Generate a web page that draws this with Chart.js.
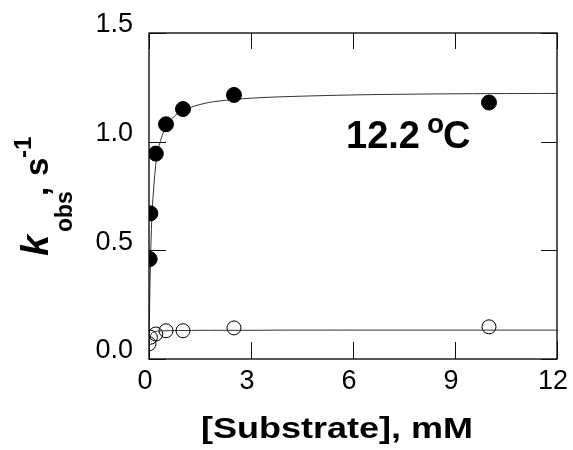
<!DOCTYPE html>
<html>
<head>
<meta charset="utf-8">
<script src="https://cdn.jsdelivr.net/npm/chart.js@4.4.0/dist/chart.umd.min.js"></script>
<style>
  html, body { margin: 0; padding: 0; background: #fff; }
</style>
</head>
<body>
<canvas id="kobsChart" width="573" height="450"></canvas>
<script>
// substrate concentration (mM) and k_obs (1/s)
var substrateFilled = [0.02, 0.04, 0.2, 0.5, 1, 2.5, 10];
var kobsFilled = [0.46, 0.67, 0.945, 1.08, 1.15, 1.215, 1.18];
var substrateOpen = [0.0, 0.04, 0.2, 0.5, 1, 2.5, 10];
var kobsOpen = [0.07, 0.10, 0.115, 0.13, 0.13, 0.143, 0.148];

// fitted curves
var fitX = [0, 0.02, 0.05, 0.1, 0.2, 0.3, 0.5, 0.75, 1, 1.5, 2, 3, 4, 6, 8, 10, 12];
var fitFilled = [0, 0.26, 0.49, 0.70, 0.895, 0.984, 1.07, 1.118, 1.144, 1.171, 1.186, 1.20, 1.207, 1.215, 1.219, 1.221, 1.222];
var fitOpen = [0, 0.085, 0.11, 0.122, 0.127, 0.129, 0.130, 0.131, 0.131, 0.132, 0.132, 0.132, 0.133, 0.133, 0.133, 0.133, 0.133];

// axis ticks
var xTicks = [0, 3, 6, 9, 12];
var yTicks = [0, 0.5, 1.0, 1.5];
var tempLabel = '12.2';

function toPoints(xs, ys)
{
    return xs.map(function(x, i) { return {x: x, y: ys[i]}; });
}

// draws the box round the plot, the inward ticks on all four sides and the titles
var framePlugin = {
    id: 'frame',
    afterDraw: function(chart) {
        var ctx = chart.ctx;
        var a = chart.chartArea;
        var xs = chart.scales.x;
        var ys = chart.scales.y;
        ctx.save();
        ctx.strokeStyle = '#111';
        ctx.lineWidth = 1;
        ctx.beginPath();
        xTicks.forEach(function(v) {
            var px = Math.round(xs.getPixelForValue(v)) + 0.5;
            ctx.moveTo(px, a.bottom); ctx.lineTo(px, a.bottom - 17);
            ctx.moveTo(px, a.top); ctx.lineTo(px, a.top + 16);
        });
        yTicks.forEach(function(v) {
            var py = Math.round(ys.getPixelForValue(v)) + 0.5;
            ctx.moveTo(a.left, py); ctx.lineTo(a.left + 17, py);
            ctx.moveTo(a.right, py); ctx.lineTo(a.right - 16, py);
        });
        ctx.stroke();
        ctx.lineWidth = 1.4;
        ctx.strokeRect(a.left, a.top, a.right - a.left, a.bottom - a.top);

        ctx.fillStyle = '#000';
        ctx.textBaseline = 'alphabetic';

        // temperature label
        ctx.font = 'bold 38px "Liberation Sans", Arial, sans-serif';
        ctx.textAlign = 'left';
        ctx.fillText(tempLabel, 346, 148);
        ctx.font = 'bold 28px "Liberation Sans", Arial, sans-serif';
        ctx.fillText('o', 427, 133);
        ctx.font = 'bold 38px "Liberation Sans", Arial, sans-serif';
        ctx.fillText('C', 443, 148);

        // x axis title, a little wider than the font as in the original
        ctx.save();
        ctx.translate(337, 438);
        ctx.scale(1.2, 1);
        ctx.font = 'bold 30px "Liberation Sans", Arial, sans-serif';
        ctx.textAlign = 'center';
        ctx.fillText('[Substrate], mM', 0, 0);
        ctx.restore();

        // y axis title: k(obs), s^-1
        ctx.save();
        ctx.translate(48, 256);
        ctx.rotate(-Math.PI / 2);
        ctx.textAlign = 'left';
        ctx.font = 'italic bold 38px "Liberation Sans", Arial, sans-serif';
        ctx.fillText('k', 0, 0);
        ctx.font = 'bold 23px "Liberation Sans", Arial, sans-serif';
        ctx.fillText('obs', 24, 24);
        ctx.font = 'bold 33px "Liberation Sans", Arial, sans-serif';
        ctx.fillText(',', 60, 0);
        ctx.fillText('s', 80, 0);
        ctx.font = 'bold 24px "Liberation Sans", Arial, sans-serif';
        ctx.fillText('-1', 98, -17);
        ctx.restore();

        ctx.restore();
    }
};

var ctx = document.getElementById('kobsChart').getContext('2d');
var myChart = new Chart(ctx, {
    type: 'scatter',
    data: {
        datasets: [
            {
                label: 'fit filled',
                data: toPoints(fitX, fitFilled),
                showLine: true,
                borderColor: '#333',
                borderWidth: 1,
                pointRadius: 0,
                tension: 0.3,
                order: 2
            },
            {
                label: 'fit open',
                data: toPoints(fitX, fitOpen),
                showLine: true,
                borderColor: '#333',
                borderWidth: 1,
                pointRadius: 0,
                tension: 0.3,
                order: 2
            },
            {
                label: 'filled',
                data: toPoints(substrateFilled, kobsFilled),
                backgroundColor: '#000',
                borderColor: '#000',
                borderWidth: 1,
                pointRadius: 7.5,
                order: 1
            },
            {
                label: 'open',
                data: toPoints(substrateOpen, kobsOpen),
                backgroundColor: 'rgba(0,0,0,0)',
                borderColor: '#000',
                borderWidth: 1,
                pointRadius: 7,
                order: 1
            }
        ]
    },
    options: {
        responsive: false,
        animation: false,
        devicePixelRatio: 1,
        layout: {
            padding: {top: 33, right: 16, left: 0, bottom: 0}
        },
        plugins: {
            legend: {display: false},
            tooltip: {enabled: false}
        },
        scales: {
            x: {
                type: 'linear',
                min: 0,
                max: 12,
                afterBuildTicks: function(scale) {
                    scale.ticks = xTicks.map(function(v) { return {value: v}; });
                },
                afterFit: function(scale) {
                    scale.height = 91;
                    scale.paddingLeft = 0;
                    scale.paddingRight = 0;
                },
                grid: {display: false, drawTicks: false},
                border: {display: false},
                ticks: {
                    color: '#000',
                    padding: 6,
                    labelOffset: -4,
                    maxRotation: 0,
                    font: {family: '"Liberation Sans", Arial, sans-serif', size: 27},
                    callback: function(v) { return String(v); }
                }
            },
            y: {
                type: 'linear',
                min: 0,
                max: 1.5,
                afterBuildTicks: function(scale) {
                    scale.ticks = yTicks.map(function(v) { return {value: v}; });
                },
                afterFit: function(scale) {
                    scale.width = 149;
                    scale.paddingTop = 0;
                    scale.paddingBottom = 0;
                },
                grid: {display: false, drawTicks: false},
                border: {display: false},
                ticks: {
                    color: '#000',
                    padding: 16,
                    labelOffset: -8,
                    font: {family: '"Liberation Sans", Arial, sans-serif', size: 27},
                    callback: function(v) { return v.toFixed(1); }
                }
            }
        }
    },
    plugins: [framePlugin]
});
</script>
</body>
</html>
